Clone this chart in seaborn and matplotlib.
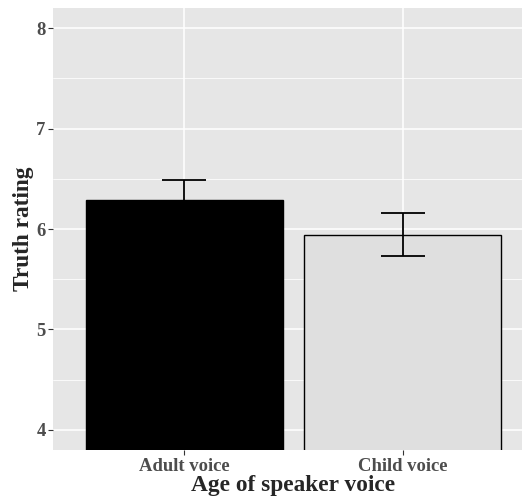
import matplotlib
matplotlib.use("Agg")
import matplotlib.pyplot as plt
import seaborn as sns
import pandas as pd
from matplotlib.ticker import MultipleLocator

# values
voices = ["Adult voice", "Child voice"]
means = [6.285, 5.945]
upper = [6.485, 6.158]
lower = [6.085, 5.730]
fills = ["#000000", "#DFDFDF"]

df = pd.DataFrame({"voice": voices, "rating": means})

sns.set_style("darkgrid")
plt.rcParams["font.family"] = ["Liberation Serif", "DejaVu Serif"]

W, H = 522, 499
fig = plt.figure(figsize=(W / 100, H / 100), dpi=100)
# panel runs past the right edge, as in the reference
left, right, top, bottom = 53.3, 533.7, 8, 450
ax = fig.add_axes([left / W, 1 - bottom / H, (right - left) / W, (bottom - top) / H])
ax.set_facecolor("#E6E6E6")

sns.barplot(data=df, x="voice", y="rating", hue="voice", palette=fills,
            width=0.9, errorbar=None, edgecolor="black", linewidth=1.0,
            legend=False, ax=ax, zorder=3)

yerr = [[m - lo for m, lo in zip(means, lower)], [up - m for m, up in zip(means, upper)]]
ax.errorbar(range(len(voices)), means, yerr=yerr, fmt="none", ecolor="black",
            elinewidth=1.3, capsize=15.7, capthick=1.3, zorder=4)

ax.set_xlim(-0.6, 1.6)
ax.set_ylim(3.8, 8.2)
ax.yaxis.set_major_locator(MultipleLocator(1))
ax.yaxis.set_minor_locator(MultipleLocator(0.5))
ax.grid(which="major", color="white", linewidth=1.1, zorder=0)
ax.grid(which="minor", axis="y", color="white", linewidth=0.55, zorder=0)
ax.set_axisbelow(True)
for s in ax.spines.values():
    s.set_visible(False)

ax.tick_params(axis="both", which="major", bottom=True, left=True, length=3.5,
               width=0.8, color="#333333", labelcolor="#4D4D4D", labelsize=13.4, pad=2)
ax.tick_params(axis="both", which="minor", length=0)
for lab in ax.get_xticklabels() + ax.get_yticklabels():
    lab.set_fontweight("bold")

ax.set_xlabel("Age of speaker voice", fontsize=16.8, fontweight="bold", labelpad=0)
ax.set_ylabel("Truth rating", fontsize=16.8, fontweight="bold", labelpad=2)

fig.savefig("out.png", dpi=100)
